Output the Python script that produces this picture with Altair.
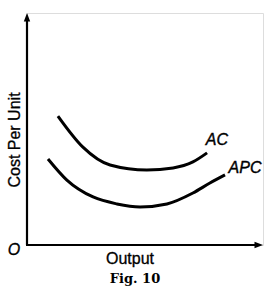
import altair as alt
import pandas as pd

# Curve data (Output, Cost per unit) in arbitrary units
ac_x = [1.31, 2.37, 3.52, 5.08, 6.19, 7.03, 7.63]
ac_y = [5.56, 4.22, 3.45, 3.23, 3.32, 3.58, 3.97]
apc_x = [0.89, 1.69, 2.80, 3.81, 4.79, 5.93, 7.03, 7.75, 8.39]
apc_y = [3.71, 2.80, 2.07, 1.77, 1.64, 1.77, 2.24, 2.67, 3.02]

label_names = ["AC", "APC"]
label_x = [8.05, 9.24]
label_y = [4.53, 3.32]

W, H = 236, 232
xs = alt.Scale(domain=[0, 10], nice=False, zero=False)
ys = alt.Scale(domain=[0, 10], nice=False, zero=False)

curves = pd.DataFrame(
    [{"curve": "AC", "x": x, "y": y, "i": i} for i, (x, y) in enumerate(zip(ac_x, ac_y))]
    + [{"curve": "APC", "x": x, "y": y, "i": i} for i, (x, y) in enumerate(zip(apc_x, apc_y))]
)
labels = pd.DataFrame({"name": label_names, "x": label_x, "y": label_y})

lines = alt.Chart(curves).mark_line(
    color="black", strokeWidth=3, interpolate="monotone"
).encode(
    x=alt.X("x:Q", scale=xs, axis=None),
    y=alt.Y("y:Q", scale=ys, axis=None),
    detail="curve:N",
    order="i:Q",
)

lbl = alt.Chart(labels).mark_text(
    font="Liberation Sans", fontSize=16, fontStyle="italic", color="black",
    stroke="black", strokeWidth=0.4
).encode(
    x=alt.X("x:Q", scale=xs, axis=None),
    y=alt.Y("y:Q", scale=ys, axis=None),
    text="name:N",
)

yaxis = alt.Chart(pd.DataFrame({"a": [0]})).mark_rule(color="black", strokeWidth=2.2).encode(
    x=alt.value(0), y=alt.value(8), y2=alt.value(H)
)
xaxis = alt.Chart(pd.DataFrame({"a": [0]})).mark_rule(color="black", strokeWidth=2.2).encode(
    x=alt.value(-1), x2=alt.value(W - 8), y=alt.value(H)
)
yarrow = alt.Chart(pd.DataFrame({"a": [0]})).mark_point(
    shape="M0,0L0.45,1.2L-0.45,1.2Z", filled=True, color="black", opacity=1, size=200
).encode(x=alt.value(0), y=alt.value(0))
xarrow = alt.Chart(pd.DataFrame({"a": [0]})).mark_point(
    shape="M0,0L-1.2,-0.45L-1.2,0.45Z", filled=True, color="black", opacity=1, size=200
).encode(x=alt.value(W), y=alt.value(H))

def txt(t, x, y, **kw):
    return alt.Chart(pd.DataFrame({"t": [t]})).mark_text(color="black", **kw).encode(
        x=alt.value(x), y=alt.value(y), text="t:N"
    )

ytitle = txt("Cost Per Unit", -12, 127, angle=270, font="Liberation Sans", fontSize=16,
             stroke="black", strokeWidth=0.3)
origin = txt("O", -13, 237, font="Liberation Sans", fontSize=16, fontStyle="italic",
             stroke="black", strokeWidth=0.3)
xtitle = txt("Output", 103, 246, font="Liberation Sans", fontSize=16,
             stroke="black", strokeWidth=0.3)
fig = txt("Fig. 10", 108, 266, font="DejaVu Serif", fontSize=13, fontWeight="bold")

chart = alt.layer(
    lines, lbl, yaxis, xaxis, yarrow, xarrow, ytitle, origin, xtitle, fig
).properties(
    width=W, height=H,
    padding={"left": 27, "top": 13, "right": 6, "bottom": 56},
    autosize=alt.AutoSizeParams(type="none"),
).configure_view(stroke=None).configure(background="white")

chart.save("out.html", embed_options={"renderer": "svg", "actions": False})
